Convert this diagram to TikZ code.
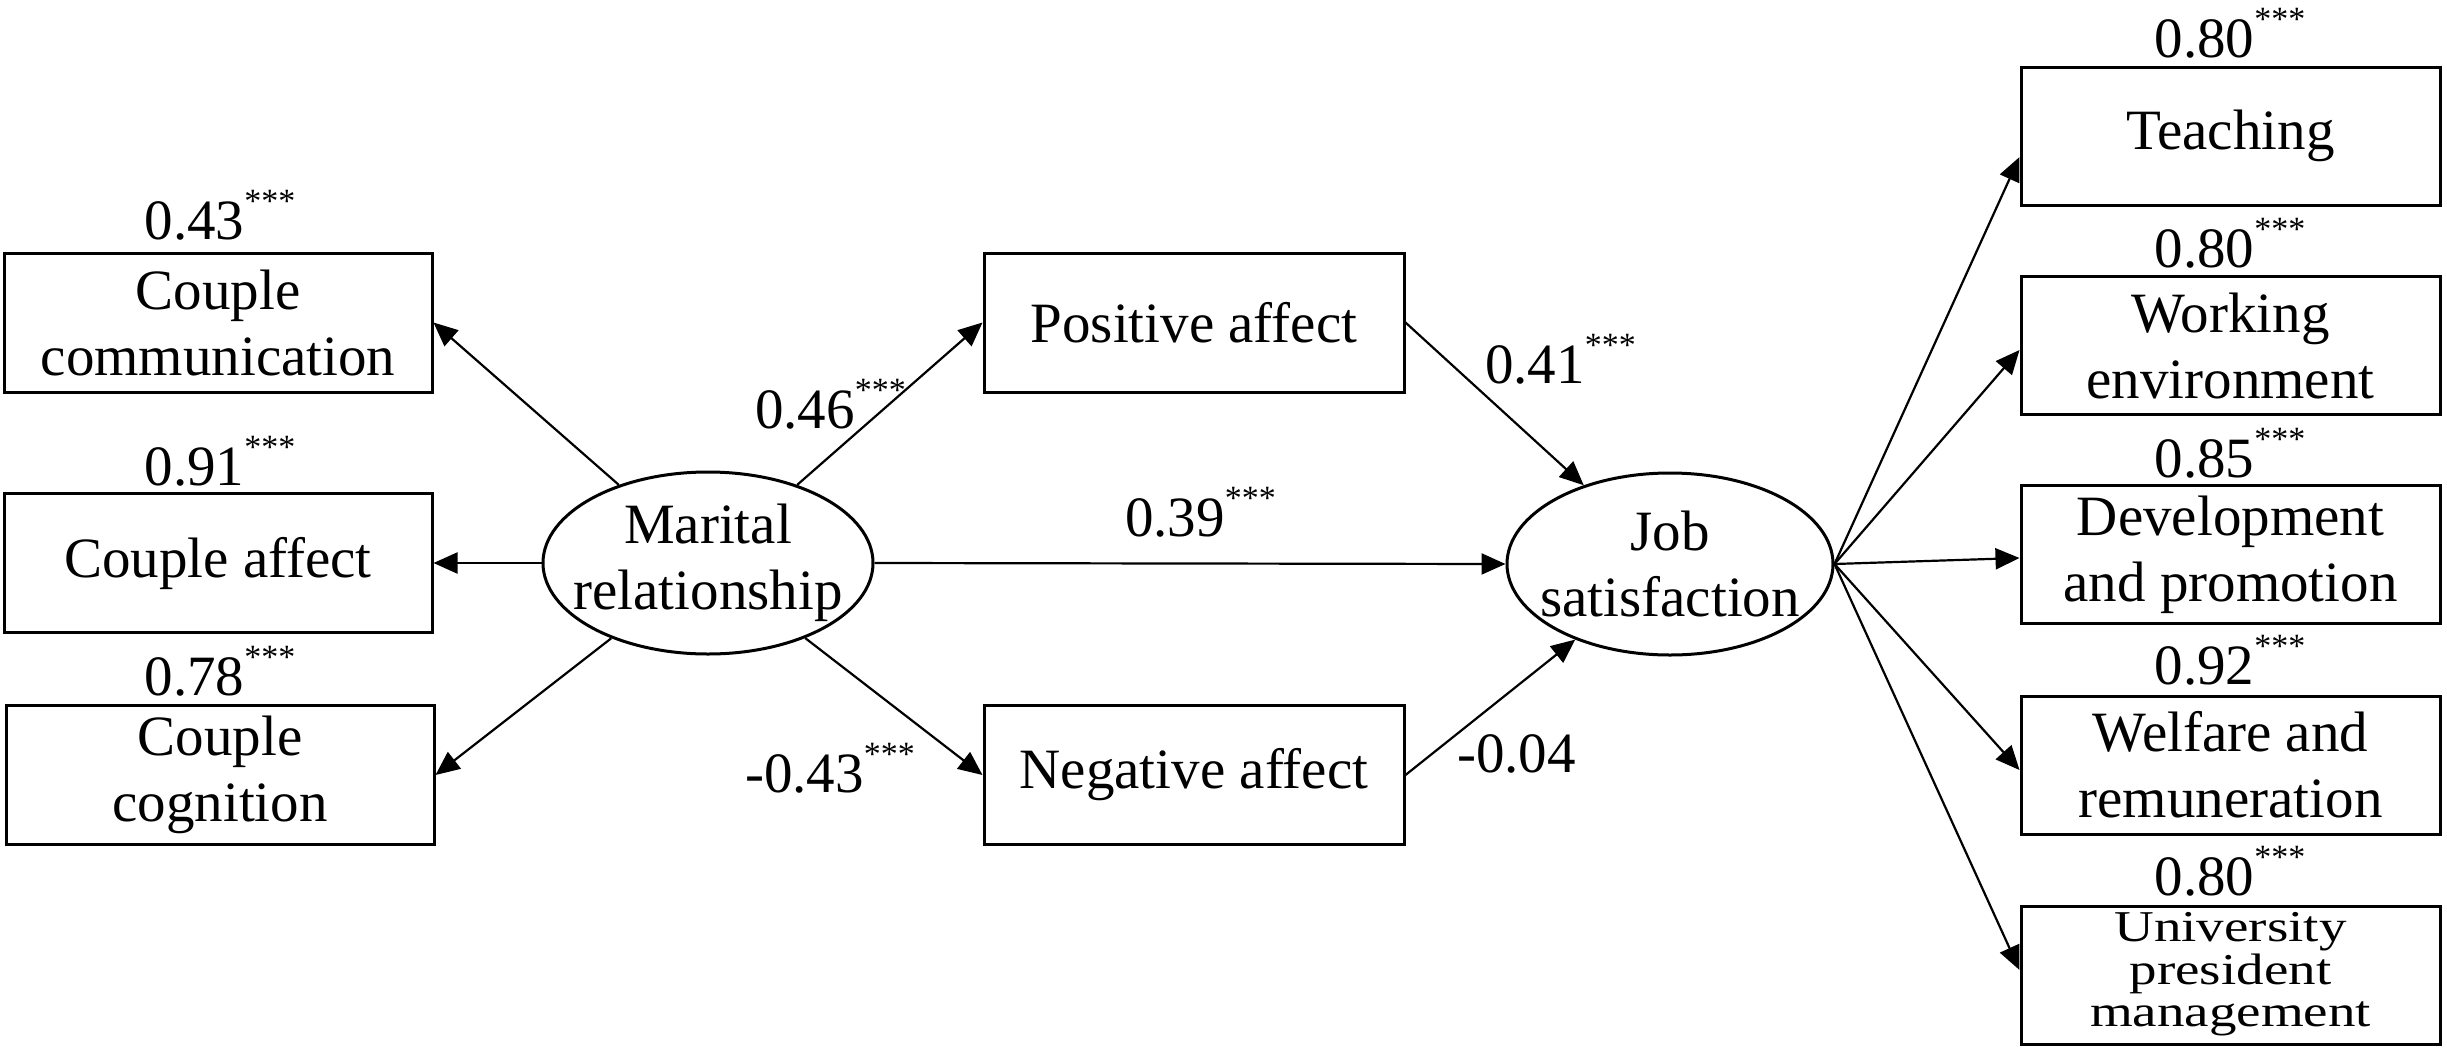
\documentclass[tikz,border=0pt]{standalone}
\usepackage{fontspec}
\setmainfont{Liberation Serif}
\usepackage{graphicx}
\usetikzlibrary{arrows.meta,shapes.geometric}
\newcommand\sigstars{\raisebox{27pt}{\fontsize{34}{34}\selectfont ***}}
\begin{document}
\begin{tikzpicture}[x=1pt,y=-1pt,
  every node/.style={font=\fontsize{57}{66}\selectfont},
  box/.style={draw, line width=3pt, rectangle, align=center, inner sep=0pt},
  lbox/.style={box, minimum width=428pt, minimum height=139pt},
  mbox/.style={box, minimum width=420pt, minimum height=139pt},
  rbox/.style={box, minimum width=419pt, minimum height=138pt},
  lat/.style={draw, line width=3pt, ellipse, minimum width=330pt, minimum height=182pt, inner sep=0pt},
  lattxt/.style={inner sep=0pt, align=center},
  coef/.style={inner sep=0pt, anchor=base},
  coefw/.style={inner sep=0pt, anchor=base west},
  arr/.style={-{Triangle[length=24pt,width=21pt]}, line width=2.2pt},
]
\useasboundingbox (0,0) rectangle (2447,1055);
\fill[white] (0,0) rectangle (2447,1055);

% left indicators
\node[lbox] (c1) at (218,322.5) {Couple\\communication};
\node[lbox] (c2) at (218,563) {Couple affect};
\node[lbox] (c3) at (220,775) {Couple\\cognition};
\node[coef] (k1) at (220,239) {0.43\sigstars};
\node[coef] (k2) at (220,485) {0.91\sigstars};
\node[coef] (k3) at (220,695) {0.78\sigstars};

% latent variables
\node[lat] (m) at (708,563) {};
\node[lattxt] (mt) at (m.center) {Marital\\relationship};
\node[lat, minimum width=326pt] (j) at (1670,564) {};
\node[lattxt] (jt) at (j.center) {Job\\satisfaction};

% mediators
\node[mbox] (p) at (1194,322.5) {Positive affect};
\node[mbox] (n) at (1194,775) {Negative affect};

% right indicators
\node[rbox] (r1) at (2230.5,136) {Teaching};
\node[rbox] (r2) at (2230.5,345.5) {Working\\environment};
\node[rbox] (r3) at (2230.5,554.5) {Development\\and promotion};
\node[rbox] (r4) at (2230.5,765) {Welfare and\\remuneration};
\node[rbox] (r5) at (2230.5,975.5) {\scalebox{1}[0.8]{\fontsize{55}{53}\selectfont\begin{tabular}{@{}c@{}}University\\president\\management\end{tabular}}};
\node[coef] (k4) at (2230,57) {0.80\sigstars};
\node[coef] (k5) at (2230,267) {0.80\sigstars};
\node[coef] (k6) at (2230,477) {0.85\sigstars};
\node[coef] (k7) at (2230,684) {0.92\sigstars};
\node[coef] (k8) at (2230,895) {0.80\sigstars};

% path coefficients
\node[coefw] (k9) at (755,428) {0.46\sigstars};
\node[coefw] (k10) at (1485,383) {0.41\sigstars};
\node[coefw] (k11) at (1125,536) {0.39\sigstars};
\node[coefw] (k12) at (745,792) {-0.43\sigstars};
\node[coefw] (k13) at (1457,772) {-0.04};

% connectors
\draw[arr] (m) -- (c1.east);
\draw[arr] (m) -- (c2.east);
\draw[arr] (m) -- (c3.east);
\draw[arr] (m) -- (p.west);
\draw[arr] (m) -- (n.west);
\draw[arr] (m.east) -- (j.west);
\draw[arr] (p.east) -- (j);
\draw[arr] (n.east) -- (j);
\draw[arr] (j.east) -- ([yshift=-21pt]r1.west);
\draw[arr] (j.east) -- ([yshift=-4.5pt]r2.west);
\draw[arr] (j.east) -- ([yshift=-3.5pt]r3.west);
\draw[arr] (j.east) -- ([yshift=-5pt]r4.west);
\draw[arr] (j.east) -- ([yshift=5.5pt]r5.west);
\end{tikzpicture}
\end{document}
